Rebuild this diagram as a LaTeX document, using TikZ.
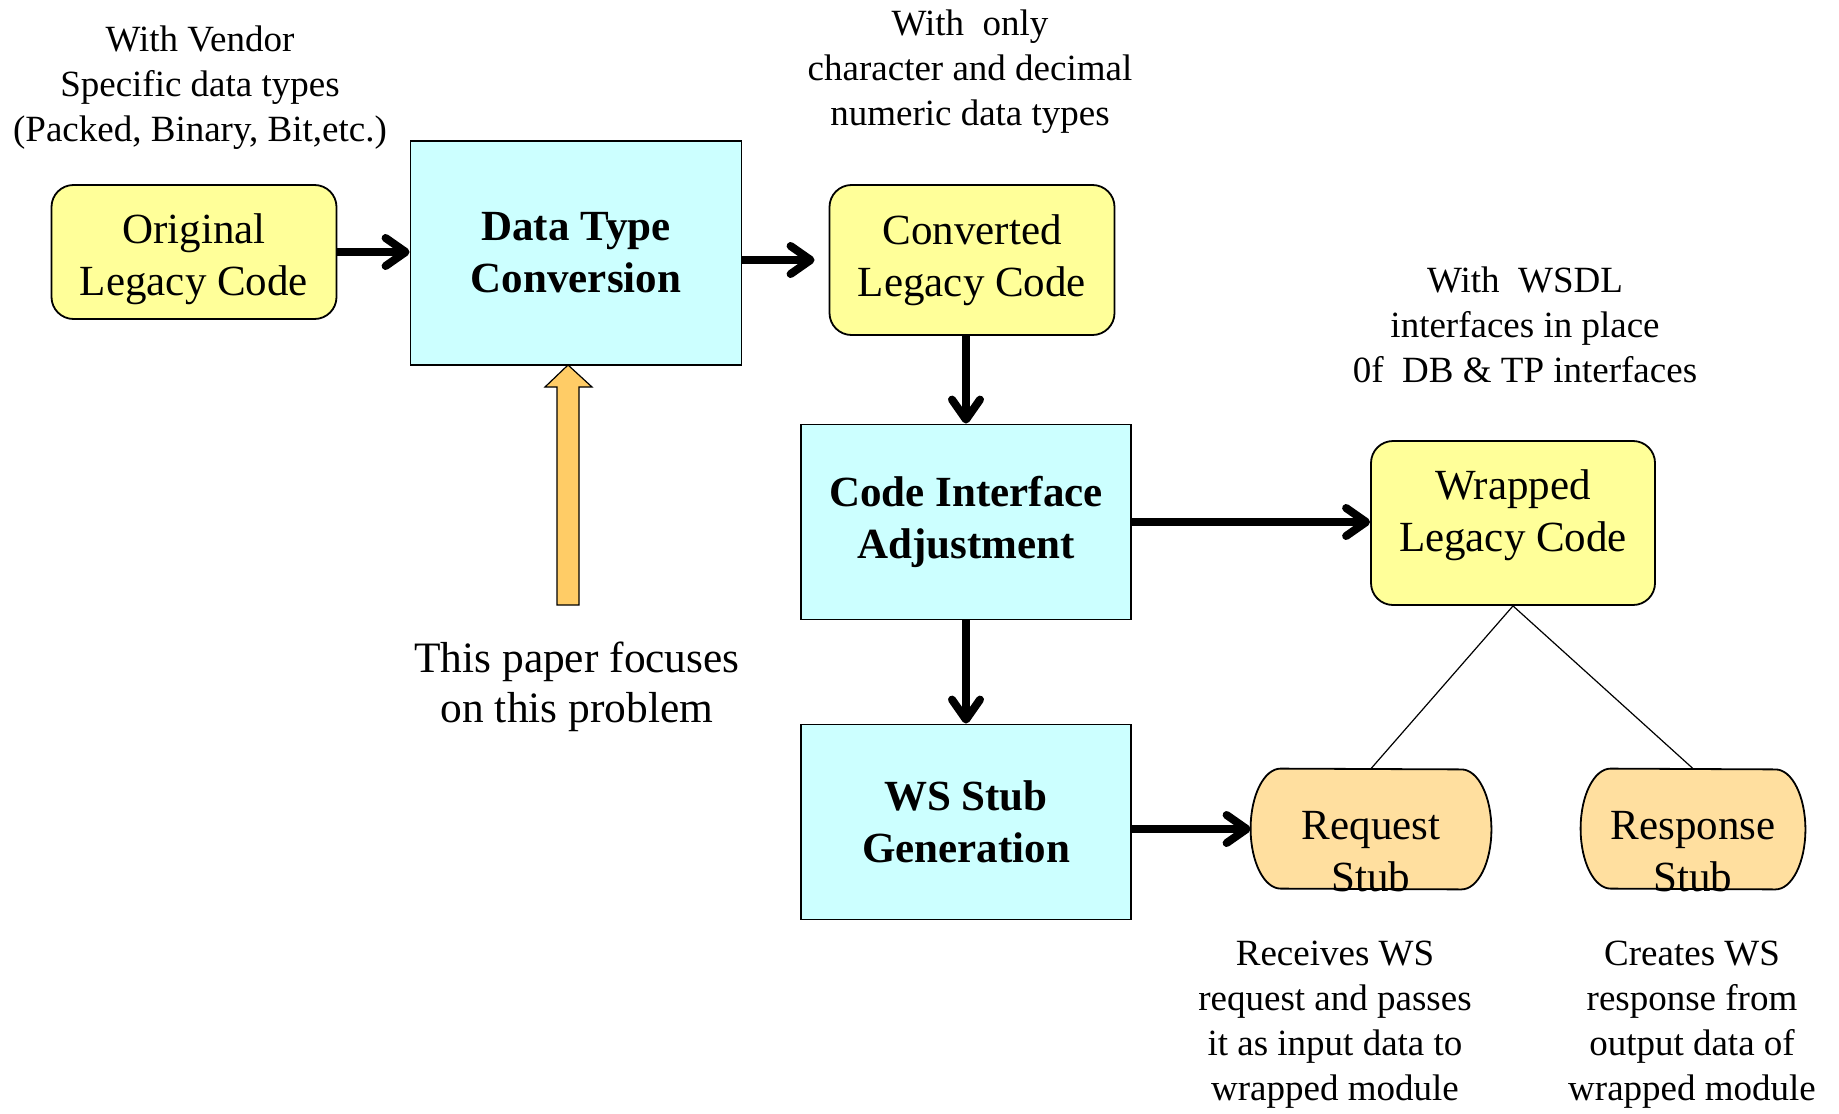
\documentclass[tikz,border=0pt]{standalone}
\usepackage{fontspec}
\setmainfont{Liberation Serif}
\usetikzlibrary{arrows.meta}

\definecolor{legacyyellow}{RGB}{255,255,153}
\definecolor{stagecyan}{RGB}{204,255,255}
\definecolor{stubtan}{RGB}{255,223,159}
\definecolor{focusorange}{RGB}{255,204,102}

\begin{document}
\begin{tikzpicture}[x=0.5pt,y=-0.5pt,>={Straight Barb[length=10pt,width=14pt,round]},
    code node/.style={draw,rounded corners=11pt,fill=legacyyellow,line width=0.9pt,
      align=center,inner sep=0pt,font=\fontsize{21.5}{26}\selectfont},
    stage node/.style={draw,fill=stagecyan,line width=0.9pt,
      align=center,inner sep=0pt,font=\fontsize{21.5}{26}\selectfont\bfseries},
    stub node/.style={minimum height=60pt,inner sep=0pt},
    stub line/.style={draw,fill=stubtan,line width=0.9pt},
    stub text/.style={align=center,font=\fontsize{21.5}{26}\selectfont},
    note/.style={align=center,font=\fontsize{18.5}{22.5}\selectfont},
    flow/.style={->,line width=4pt}]

  \useasboundingbox (0,0) rectangle (1839,1113);

  % boxes
  \node[code node,minimum width=142.5pt,minimum height=67pt] (orig) at (194,252) {\mbox{}\\[-4pt]Original\\Legacy Code};
  \node[stage node,minimum width=165.5pt,minimum height=112pt] (dtc) at (576,253) {Data Type\\Conversion};
  \node[code node,minimum width=142.5pt,minimum height=75pt] (conv) at (972,260) {Converted\\Legacy Code};
  \node[stage node,minimum width=165pt,minimum height=97.5pt] (cia) at (966,522) {Code Interface\\Adjustment};
  \node[stage node,minimum width=165pt,minimum height=97.5pt] (wsg) at (966,822) {WS Stub\\Generation};
  \node[code node,minimum width=142pt,minimum height=82pt] (wrap) at (1513,523) {Wrapped\\Legacy Code\\[-14pt]};

  % stubs
  \node[stub node,minimum width=120pt] (req) at (1371,829) {};
  \node[stub node,minimum width=112pt] (resp) at (1693,829) {};
  \foreach \s in {req,resp}
    \draw[stub line] ([xshift=15pt]\s.north west) arc[start angle=90,end angle=270,x radius=15pt,y radius=30pt]
      -- ([xshift=-15pt]\s.south east) arc[start angle=-90,end angle=90,x radius=15pt,y radius=30pt] -- cycle;
  \node[stub text] (reqtext) at (1371,852) {Request\\Stub};
  \node[stub text] (resptext) at (1693,852) {Response\\Stub};

  % notes
  \node[note] (vendor) at (200,88) {With Vendor\\Specific data types\\(Packed, Binary, Bit,etc.)};
  \node[note] (only) at (970,72) {With~ only\\character and decimal\\numeric data types};
  \node[note] (wsdl) at (1525,325) {With~ WSDL\\interfaces in place\\0f~ DB \& TP interfaces};
  \node[note] (receives) at (1335,1025) {Receives WS\\request and passes\\it as input data to\\wrapped module};
  \node[note] (creates) at (1692,1025) {Creates WS\\response from\\output data of\\wrapped module};
  \node[align=center,font=\fontsize{21.7}{25.2}\selectfont] (focus) at (577,687) {This paper focuses\\on this problem};

  % flow
  \draw[flow] (orig.east) -- (orig.east -| dtc.west);
  \draw[flow] (dtc.east |- conv.west) -- ([xshift=-7pt]conv.west);
  \draw[flow] (conv.south -| cia.north) -- (cia.north);
  \draw[flow] (cia.east) -- (cia.east -| wrap.west);
  \draw[flow] (cia.south) -- (wsg.north);
  \draw[flow] (wsg.east |- req.west) -- (req.west);
  \draw[line width=0.6pt] (wrap.south) -- (req.north);
  \draw[line width=0.6pt] (wrap.south) -- (resp.north);

  % focus arrow
  \draw[fill=focusorange,line width=0.6pt] (568,365) -- (592,387) -- (579,387) -- (579,605)
    -- (557,605) -- (557,387) -- (545,387) -- cycle;
\end{tikzpicture}
\end{document}
